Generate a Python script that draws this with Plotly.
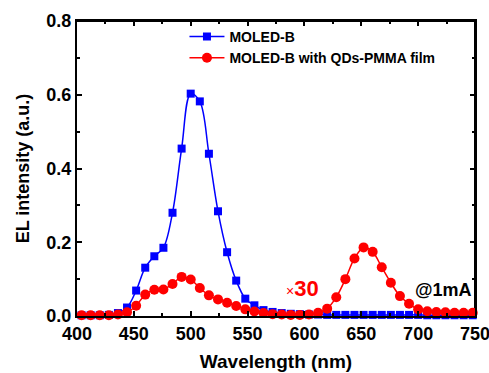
import plotly.graph_objects as go

wavelength = [404, 412, 420, 428, 436, 444, 452, 460, 468, 476, 484, 492, 500, 508, 516,
              524, 532, 540, 548, 556, 564, 572, 580, 588, 596, 604, 612, 620, 628, 636,
              644, 652, 660, 668, 676, 684, 692, 700, 708, 716, 724, 732, 740, 748]

moled_b = [0.002, 0.002, 0.002, 0.003, 0.008, 0.023, 0.069, 0.131, 0.162, 0.185, 0.280,
           0.454, 0.603, 0.582, 0.440, 0.284, 0.173, 0.096, 0.047, 0.029, 0.016, 0.011,
           0.008, 0.006, 0.005, 0.004, 0.004, 0.003, 0.003, 0.003, 0.003, 0.003, 0.003,
           0.003, 0.003, 0.003, 0.003, 0.003, 0.002, 0.002, 0.002, 0.002, 0.002, 0.002]

moled_b_qd = [0.002, 0.002, 0.002, 0.002, 0.004, 0.010, 0.028, 0.058, 0.071, 0.072, 0.087,
              0.106, 0.099, 0.076, 0.056, 0.045, 0.036, 0.027, 0.018, 0.012, 0.008, 0.005,
              0.004, 0.003, 0.003, 0.004, 0.009, 0.020, 0.051, 0.100, 0.156, 0.186, 0.174,
              0.132, 0.090, 0.054, 0.033, 0.018, 0.013, 0.011, 0.010, 0.009, 0.009, 0.009]

x_ticks = [400, 450, 500, 550, 600, 650, 700, 750]
y_ticks = [0.0, 0.2, 0.4, 0.6, 0.8]
X_RANGE = [400, 750]
Y_RANGE = [0, 0.8]

FONT = "Liberation Sans, Arial, sans-serif"

fig = go.Figure()

# top and right edges of the plot frame, drawn along the axis ranges
fig.add_trace(go.Scatter(
    x=[X_RANGE[0], X_RANGE[1], X_RANGE[1]], y=[Y_RANGE[1], Y_RANGE[1], Y_RANGE[0]],
    mode="lines", line=dict(color="black", width=2), showlegend=False,
    hoverinfo="skip", cliponaxis=False))

fig.add_trace(go.Scatter(
    x=wavelength, y=moled_b, name="<b>MOLED-B</b>", mode="lines+markers",
    line=dict(color="#0000FF", width=1.5, shape="spline"),
    marker=dict(symbol="square", size=8, color="#0000FF"),
    cliponaxis=False))
fig.add_trace(go.Scatter(
    x=wavelength, y=moled_b_qd, name="<b>MOLED-B with QDs-PMMA film</b>", mode="lines+markers",
    line=dict(color="#FF0000", width=1.5, shape="spline"),
    marker=dict(symbol="circle", size=10, color="#FF0000"),
    cliponaxis=False))

fig.add_annotation(x=598, y=0.075, xref="x", yref="y", showarrow=False,
                   text="<span style='font-size:14px;font-weight:normal'>×</span><b>30</b>",
                   font=dict(family=FONT, size=22, color="#FF0000"))
fig.add_annotation(x=722, y=0.07, xref="x", yref="y", showarrow=False,
                   text="<b>@1mA</b>", font=dict(family=FONT, size=18, color="black"))

axis_common = dict(showline=True, linecolor="black", linewidth=2, mirror="ticks",
                   ticks="inside", tickcolor="black", tickwidth=1.5, ticklen=5,
                   showgrid=False, zeroline=False, automargin=False,
                   ticklabeloverflow="allow",
                   tickfont=dict(family=FONT, size=18, color="black"))

fig.update_layout(
    template="none",
    width=489, height=373,
    margin=dict(l=77, r=14, t=21, b=57),
    plot_bgcolor="white", paper_bgcolor="white",
    font=dict(family=FONT, color="black"),
    legend=dict(x=0.27, y=1.0, xanchor="left", yanchor="top",
                bgcolor="rgba(0,0,0,0)", font=dict(family=FONT, size=14, color="black"),
                itemwidth=35, tracegroupgap=0),
    xaxis=dict(range=X_RANGE, tickvals=x_ticks,
               ticktext=[f"<b>{v}</b>" for v in x_ticks],
               minor=dict(ticks="inside", ticklen=3, dtick=25, tickcolor="black"),
               title=dict(text="<b>Wavelength (nm)</b>",
                          font=dict(family=FONT, size=19, color="black"), standoff=12),
               **axis_common),
    yaxis=dict(range=Y_RANGE, tickvals=y_ticks,
               ticktext=[f"<b>{v:.1f}</b>" for v in y_ticks],
               minor=dict(ticks="inside", ticklen=3, dtick=0.1, tickcolor="black"),
               title=dict(text="<b>EL intensity (a.u.)</b>",
                          font=dict(family=FONT, size=18, color="black"), standoff=12),
               **axis_common),
)

fig.write_html("out.html", config={"displayModeBar": False},
               post_script="document.body.style.margin='0';document.body.style.overflow='hidden';")
